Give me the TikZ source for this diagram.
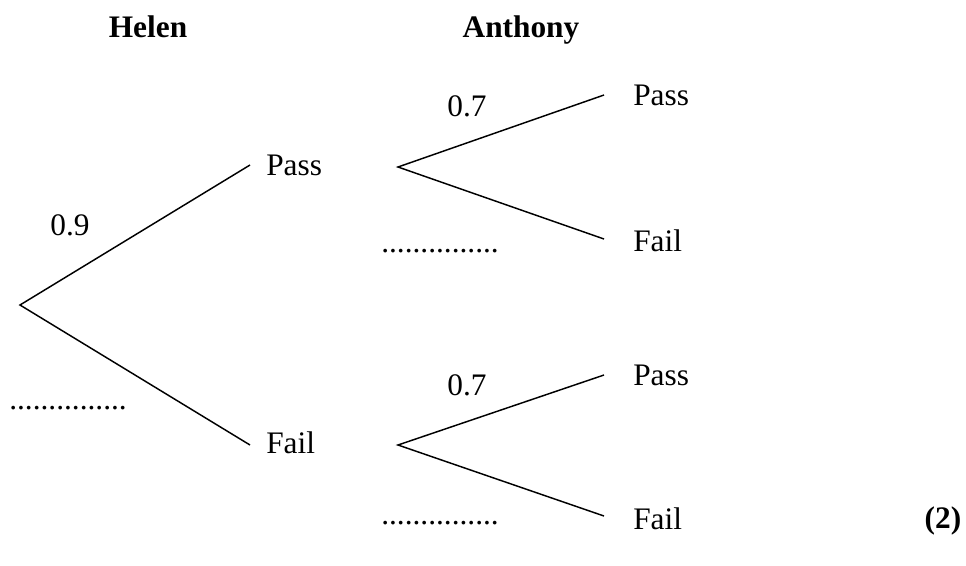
\documentclass[tikz,border=0pt]{standalone}
\usepackage{fontspec}
\setmainfont{Liberation Serif}
\begin{document}
\begin{tikzpicture}[x=0.75pt,y=-0.75pt,
  lbl/.style={font=\fontsize{23.5}{27}\selectfont, inner sep=0pt},
  hdr/.style={font=\fontsize{23.5}{27}\selectfont\bfseries, inner sep=0pt, anchor=base},
  br/.style={line width=1.1pt, black}]
\useasboundingbox (0,0) rectangle (966,565);
% headers
\node[hdr] (helen) at (148,37) {Helen};
\node[hdr] (anthony) at (521,37) {Anthony};
% branch points
\coordinate (root) at (20,305);
\coordinate (hp) at (250,165);
\coordinate (hf) at (250,445);
\coordinate (ap) at (398,167);
\coordinate (af) at (398,445);
\coordinate (app) at (604,95);
\coordinate (apf) at (604,239);
\coordinate (afp) at (604,375);
\coordinate (aff) at (604,516);
\draw[br] (hp) -- (root) -- (hf);
\draw[br] (app) -- (ap) -- (apf);
\draw[br] (afp) -- (af) -- (aff);
% outcome labels
\node[lbl,anchor=west] (pass1) at (266,165) {Pass};
\node[lbl,anchor=west] (fail1) at (266,443) {Fail};
\node[lbl,anchor=west] (pass2) at (633,95) {Pass};
\node[lbl,anchor=west] (fail2) at (633,241) {Fail};
\node[lbl,anchor=west] (pass3) at (633,375) {Pass};
\node[lbl,anchor=west] (fail3) at (633,519) {Fail};
% probabilities
\node[lbl] (p09) at (70,225) {0.9};
\node[lbl] (p07a) at (467,106) {0.7};
\node[lbl] (p07b) at (467,385) {0.7};
\node[lbl] (d1) at (68,408) {...............};
\node[lbl] (d2) at (440,251) {...............};
\node[lbl] (d3) at (440,523) {...............};
\node[hdr] (marks) at (943,528) {(2)};
\end{tikzpicture}
\end{document}
